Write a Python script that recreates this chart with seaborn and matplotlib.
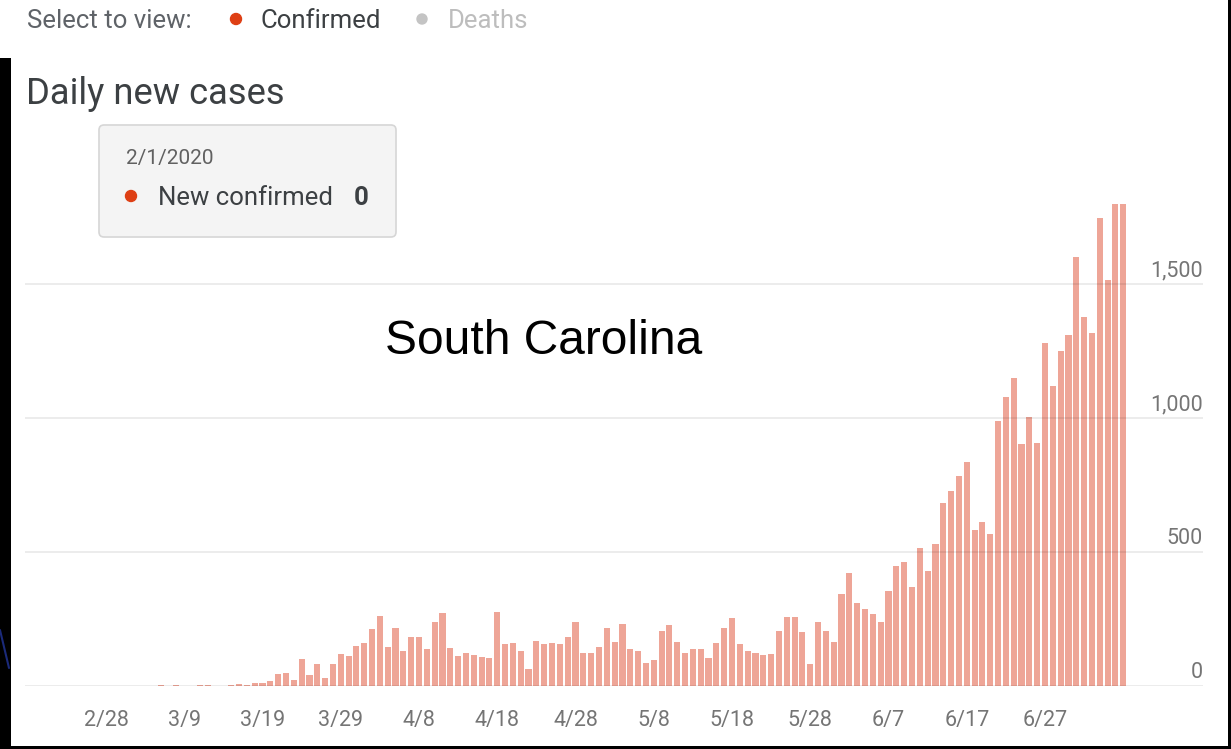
import numpy as np
import pandas as pd
import matplotlib
matplotlib.use("Agg")
import matplotlib.pyplot as plt
import matplotlib.transforms as mtransforms
from matplotlib.patches import FancyBboxPatch, Rectangle, Circle
from matplotlib.lines import Line2D
import seaborn as sns

# ---------------- data (daily new confirmed cases, South Carolina) ----------------
start_date = "2020-02-01"
feb_cases = [0] * 29
mar_cases = [0, 0, 0, 0, 0, 2, 0, 4, 1, 0, 3, 2, 0, 1, 5, 7, 3, 13, 13, 20,
             45, 50, 22, 102, 41, 81, 29, 81, 121, 112, 149]
apr_cases = [159, 211, 261, 147, 218, 132, 184, 184, 137, 240,
             274, 143, 113, 122, 116, 110, 103, 275, 157, 162,
             131, 62, 169, 156, 159, 156, 184, 238, 124, 124]
may_cases = [147, 215, 164, 230, 138, 132, 85, 96, 207, 226,
             165, 124, 139, 137, 103, 162, 218, 253, 156, 130,
             122, 116, 119, 205, 259, 256, 202, 82, 238, 207, 165]
jun_cases = [343, 420, 311, 286, 267, 238, 355, 448, 462, 371,
             514, 428, 530, 682, 728, 785, 837, 582, 611, 566,
             990, 1080, 1151, 903, 1005, 908, 1281, 1121, 1250, 1310]
jul_cases = [1599, 1377, 1319, 1748, 1515, 1799, 1799]

x_tick_labels = ["2/28", "3/9", "3/19", "3/29", "4/8", "4/18", "4/28",
                 "5/8", "5/18", "5/28", "6/7", "6/17", "6/27"]
y_ticks = [0, 500, 1000, 1500]

title_text = "Daily new cases"
overlay_text = "South Carolina"
tooltip_date = "2/1/2020"
tooltip_label = "New confirmed"
tooltip_value = "0"

# ---------------- build frame ----------------
cases = feb_cases + mar_cases + apr_cases + may_cases + jun_cases + jul_cases
dates = pd.date_range(start_date, periods=len(cases), freq="D")
df = pd.DataFrame({"date": dates, "pos": np.arange(len(cases)), "cases": cases})
start = pd.Timestamp(start_date)
tick_pos = [(pd.to_datetime(l + "/2020", format="%m/%d/%Y") - start).days for l in x_tick_labels]

# ---------------- style ----------------
sns.set_theme(style="white")
plt.rcParams['font.family'] = ['Roboto', 'DejaVu Sans']

W, H = 1231, 749
fig = plt.figure(figsize=(W / 100, H / 100), dpi=100)
fig.patch.set_facecolor("white")

def fx(px):
    return px / W

def fy(py):
    return 1 - py / H

BAR = "#eea597"
RED = "#de3f14"
TICK_COLOR = "#757575"

ax_left, ax_right, ax_top, ax_bottom = 25, 1203, 200, 686
ax = fig.add_axes([fx(ax_left), fy(ax_bottom), fx(ax_right) - fx(ax_left), fy(ax_top) - fy(ax_bottom)])
sns.barplot(data=df, x="pos", y="cases", native_scale=True, color=BAR, saturation=1,
            width=0.78, linewidth=0, ax=ax)

px_per_day = (1045 - 106) / 120.0
p0 = tick_pos[0]
ax.set_xlim(p0 + (ax_left - 106) / px_per_day, p0 + (ax_right - 106) / px_per_day)
ymax = 1500 * (ax_bottom - ax_top) / (686 - 284)
ax.set_ylim(0, ymax)

ax.set_xticks(tick_pos)
ax.set_xticklabels(x_tick_labels)
ax.set_yticks(y_ticks)
ax.set_yticklabels([])
ax.set_xlabel("")
ax.set_ylabel("")
ax.tick_params(axis="x", length=0, pad=17, labelsize=15.5, labelcolor=TICK_COLOR)
ax.tick_params(axis="y", length=0, labelleft=False)
for s in ax.spines.values():
    s.set_visible(False)
ax.set_axisbelow(False)
ax.grid(axis="y", color="black", alpha=0.09, linewidth=1.2)
ax.grid(axis="x", visible=False)
ax.patch.set_alpha(0)

# y tick labels: right aligned, sitting above each gridline
trans = mtransforms.blended_transform_factory(ax.transAxes, ax.transData)
trans = mtransforms.offset_copy(trans, fig=fig, x=0, y=13, units="dots")
for v in y_ticks:
    ax.text(1.0, v, f"{v:,}", transform=trans, ha="right", va="center",
            fontsize=15.5, color=TICK_COLOR, clip_on=False)

# ---------------- header & annotations ----------------
pix = mtransforms.IdentityTransform()

fig.text(fx(27), fy(28), "Select to view:", fontsize=18.5, color="#5f6368", ha="left", va="baseline")
fig.add_artist(Circle((236, H - 19), 5.5, transform=pix, color=RED, zorder=5))
fig.text(fx(260), fy(28), "Confirmed", fontsize=18.5, color="#3c4043", ha="left", va="baseline")
fig.add_artist(Circle((422, H - 19), 5.0, transform=pix, color="#c4c4c4", zorder=5))
fig.text(fx(448), fy(28), "Deaths", fontsize=18.5, color="#bdbdbd", ha="left", va="baseline")

fig.text(fx(26), fy(104), title_text, fontsize=26.2, color="#3c4043", ha="left", va="baseline")

box = FancyBboxPatch((99, H - 237), 297, 112, boxstyle="round,pad=0,rounding_size=5",
                     transform=pix, facecolor="#f4f4f4", edgecolor="#d6d6d6", linewidth=1.2, zorder=6)
fig.add_artist(box)
fig.text(fx(126), fy(164), tooltip_date, fontsize=15, color="#616161", ha="left", va="baseline", zorder=7)
fig.add_artist(Circle((131, H - 196), 5.5, transform=pix, color=RED, zorder=7))
fig.text(fx(158), fy(205), tooltip_label, fontsize=18.5, color="#3c4043", ha="left", va="baseline", zorder=7)
fig.text(fx(354), fy(205), tooltip_value, fontsize=18.5, color="#3c4043", fontweight="bold",
         ha="left", va="baseline", zorder=7)

fig.text(fx(385), fy(342), overlay_text, fontsize=34.5, color="black", family="Liberation Sans",
         ha="left", va="center", zorder=7)

# ---------------- screenshot frame ----------------
fig.add_artist(Rectangle((0, 0), 11, H - 58, transform=pix, facecolor="black", edgecolor="none", zorder=10))
fig.add_artist(Rectangle((0, 0), W, 3, transform=pix, facecolor="black", edgecolor="none", zorder=10))
fig.add_artist(Rectangle((W - 3, 0), 3, H, transform=pix, facecolor="black", edgecolor="none", zorder=10))
fig.add_artist(Line2D([0, 9], [H - 630, H - 668], transform=pix, color="#1b2a7a", linewidth=1.5, zorder=11))

fig.savefig("out.png", dpi=100, facecolor="white")
